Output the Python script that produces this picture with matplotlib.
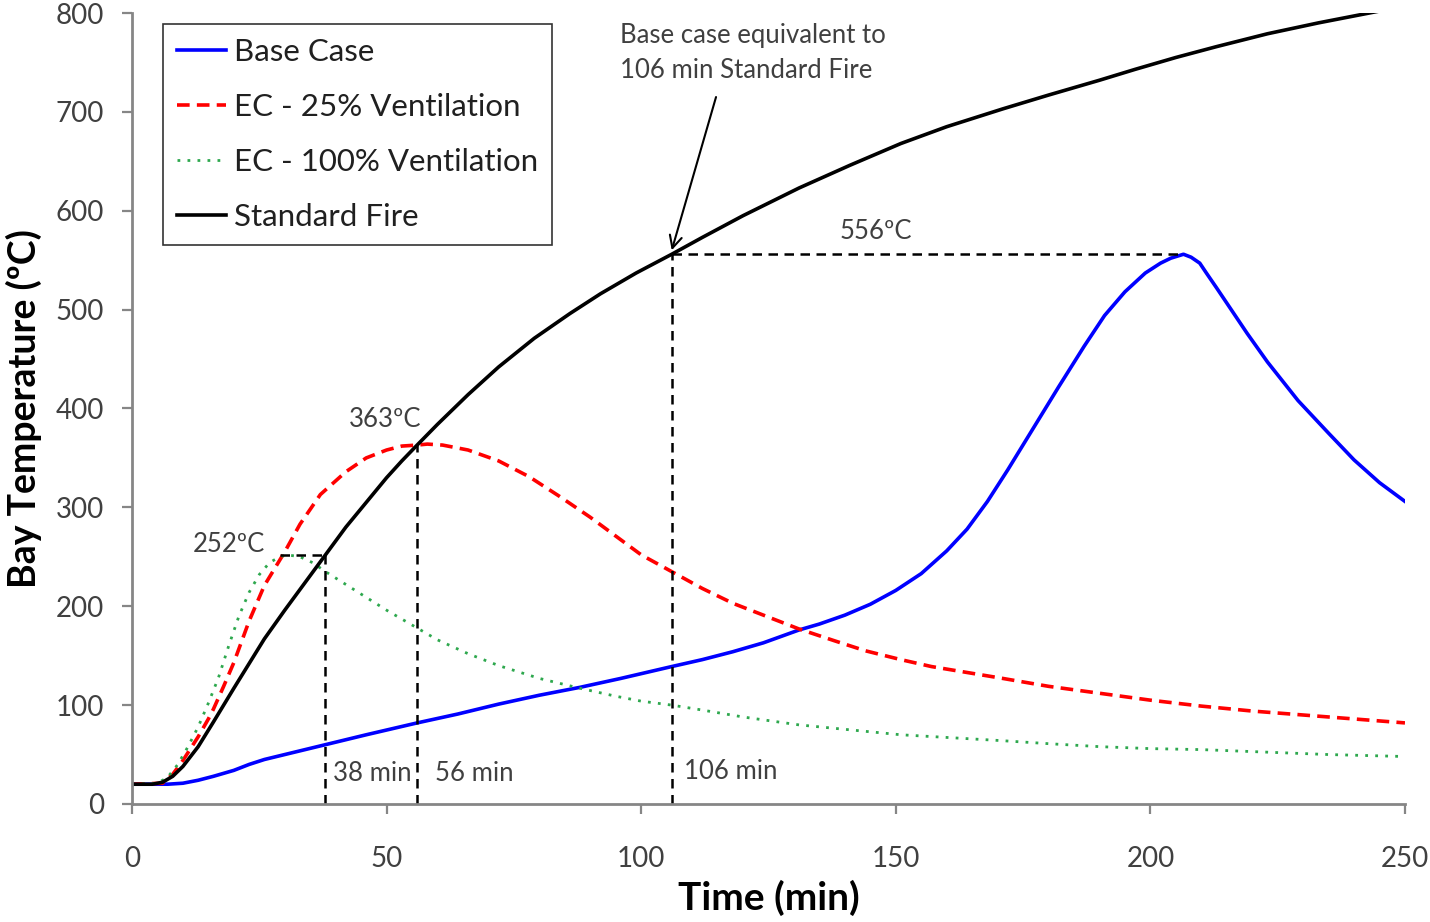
import matplotlib
matplotlib.use("Agg")
import matplotlib.pyplot as plt

plt.rcParams['font.family'] = ['Lato', 'DejaVu Sans']

# Labelled key values
PEAK_100 = 252      # EC - 100% ventilation peak (ºC)
PEAK_25 = 363       # EC - 25% ventilation peak (ºC)
PEAK_BASE = 556     # Base case peak (ºC)
T_100 = 38          # standard-fire equivalent time, 100% ventilation (min)
T_25 = 56           # standard-fire equivalent time, 25% ventilation (min)
T_BASE = 106        # standard-fire equivalent time, base case (min)

# Base case
base_t = [0, 7, 10, 13, 16, 20, 23, 26, 30, 34, 38, 42, 46, 51, 56, 64, 72, 80, 88, 96,
          106, 112, 118, 124, 131, 135, 140, 145, 150, 155, 160, 164, 168, 172, 177,
          182, 187, 191, 195, 199, 202, 204, 206.5, 208, 209.7, 211, 213, 216, 219, 223,
          229, 235, 240, 245, 250]
base_T = [20, 20, 21, 24, 28, 34, 40, 45, 50, 55, 60, 65, 70, 76, 82, 91, 101, 110, 118,
          127, 139, 146, 154, 163, 176, 182, 191, 202, 216, 233, 256, 278, 306, 338, 380,
          422, 463, 494, 518, 537, 547, 552, PEAK_BASE, 553, 547, 537, 522, 499, 476, 447,
          408, 375, 348, 325, 306]

# EC - 25% ventilation
ec25_t = [0, 6, 8, 10, 13, 15, 16, 18, 20, 23, 26, 30, 33, 37, 42, 46, 50, 53, 56, 58,
          61, 66, 72, 78, 84, 90, 95, 100, 106, 112, 118, 125, 131, 138, 144, 151, 157,
          164, 171, 180, 190, 200, 210, 220, 230, 240, 250]
ec25_T = [20, 21, 30, 44, 68, 86, 96, 119, 143, 185, 221, 255, 283, 313, 336, 350, 358,
          362, PEAK_25, 364, 363, 358, 347, 331, 311, 290, 271, 252, 235, 218, 203, 189,
          177, 165, 155, 146, 139, 133, 127, 119, 112, 105, 99, 94, 90, 86, 82]

# EC - 100% ventilation
ec100_t = [0, 5, 7, 9, 11, 13, 15, 17, 19, 21, 23, 25, 27, 29, 30.5, 33, 35.5, 38, 42,
           46, 50, 53, 56, 60, 66, 72, 80, 88, 95, 100, 106, 112, 120, 131, 141, 151,
           161, 171, 180, 190, 200, 210, 220, 235, 250]
ec100_T = [20, 21, 27, 40, 58, 78, 102, 128, 160, 190, 214, 232, 244, 250, PEAK_100,
           250, 244, 235, 222, 209, 196, 187, 178, 166, 152, 140, 127, 117, 109, 104, 100,
           95, 88, 80, 75, 70, 67, 64, 61, 58, 56, 55, 53, 50, 48]

# Standard fire curve
std_t = [0, 4, 6, 8, 10, 13, 16, 20, 23, 26, 30, 33, 38, 42, 46, 50, 53, 56, 60, 66,
         72, 79, 86, 92, 99, 106, 112, 120, 131, 141, 151, 160, 171, 180, 190, 197,
         205, 213, 223, 233, 243, 250]
std_T = [20, 20, 22, 28, 38, 58, 83, 117, 142, 167, 196, 217, PEAK_100, 280, 305, 330,
         347, PEAK_25, 384, 414, 442, 471, 496, 516, 537, PEAK_BASE, 573, 595, 623, 646,
         668, 685, 703, 717, 732, 743, 755, 766, 779, 790, 800, 807]

series_labels = ["Base Case", "EC - 25% Ventilation", "EC - 100% Ventilation", "Standard Fire"]

x_ticks = [0, 50, 100, 150, 200, 250]
y_ticks = [0, 100, 200, 300, 400, 500, 600, 700, 800]

fig = plt.figure(figsize=(14.3, 9.22), dpi=100)
ax = fig.add_axes([0.0923, 0.128, 0.8902, 0.8579])

ax.plot(base_t, base_T, color="#0000FF", lw=2.6, label=series_labels[0])
ax.plot(ec25_t, ec25_T, color="#FF0000", lw=2.6, dashes=(3.5, 2.0), label=series_labels[1])
ax.plot(ec100_t, ec100_T, color="#2EA84E", lw=2.0, dashes=(1.0, 2.6), label=series_labels[2])
ax.plot(std_t, std_T, color="black", lw=2.6, label=series_labels[3])

# Equivalent-time guide lines
guide = dict(color="black", lw=1.8, dashes=(3.8, 2.6))
ax.plot([T_100, T_100], [0, PEAK_100], **guide)
ax.plot([T_25, T_25], [0, PEAK_25], **guide)
ax.plot([T_BASE, T_BASE], [0, PEAK_BASE], **guide)
ax.plot([29, T_100], [PEAK_100, PEAK_100], **guide)
ax.plot([T_BASE, 206.5], [PEAK_BASE, PEAK_BASE], **guide)

txt_color = "#404040"
fs_ann = 18.5
ax.text(19, 262, f"{PEAK_100}\u00baC", fontsize=fs_ann, color=txt_color, ha="center", va="center")
ax.text(49.7, 389, f"{PEAK_25}\u00baC", fontsize=fs_ann, color=txt_color, ha="center", va="center")
ax.text(146, 579, f"{PEAK_BASE}\u00baC", fontsize=fs_ann, color=txt_color, ha="center", va="center")
ax.text(47.2, 31, f"{T_100} min", fontsize=fs_ann, color=txt_color, ha="center", va="center")
ax.text(67.3, 31, f"{T_25} min", fontsize=fs_ann, color=txt_color, ha="center", va="center")
ax.text(117.6, 33, f"{T_BASE} min", fontsize=fs_ann, color=txt_color, ha="center", va="center")

ax.text(95.8, 777, "Base case equivalent to", fontsize=18.5, color=txt_color,
        ha="left", va="center")
ax.text(95.8, 742, f"{T_BASE} min Standard Fire", fontsize=18.5, color=txt_color,
        ha="left", va="center")
ax.annotate("", xy=(T_BASE, PEAK_BASE + 4), xytext=(114.7, 715),
            arrowprops=dict(arrowstyle="->", color="black", lw=1.5,
                            mutation_scale=22, shrinkA=0, shrinkB=0))

ax.set_xlim(0, 250)
ax.set_ylim(0, 800)
ax.set_xticks(x_ticks)
ax.set_yticks(y_ticks)

spine_col = "#868686"
for s in ("top", "right"):
    ax.spines[s].set_visible(False)
for s in ("left", "bottom"):
    ax.spines[s].set_color(spine_col)
    ax.spines[s].set_linewidth(2.0)
ax.tick_params(axis="both", direction="out", length=7, width=1.6, color=spine_col,
               labelsize=20, labelcolor=txt_color)
ax.tick_params(axis="x", pad=23)
ax.tick_params(axis="y", pad=13)

ax.set_xlabel("Time (min)", fontsize=28, fontweight="bold", labelpad=6)
ax.set_ylabel("Bay Temperature (\u00baC)", fontsize=27, fontweight="bold", labelpad=10)

leg = ax.legend(loc="upper left", bbox_to_anchor=(0.0244, 0.986), borderaxespad=0,
                fontsize=22.5, frameon=True, fancybox=False, handlelength=1.58,
                handletextpad=0.25, labelspacing=0.86, borderpad=0.45)
leg.get_frame().set_edgecolor("black")
leg.get_frame().set_linewidth(1.2)
for t in leg.get_texts():
    t.set_color("#202020")

fig.savefig("out.png", dpi=100)
